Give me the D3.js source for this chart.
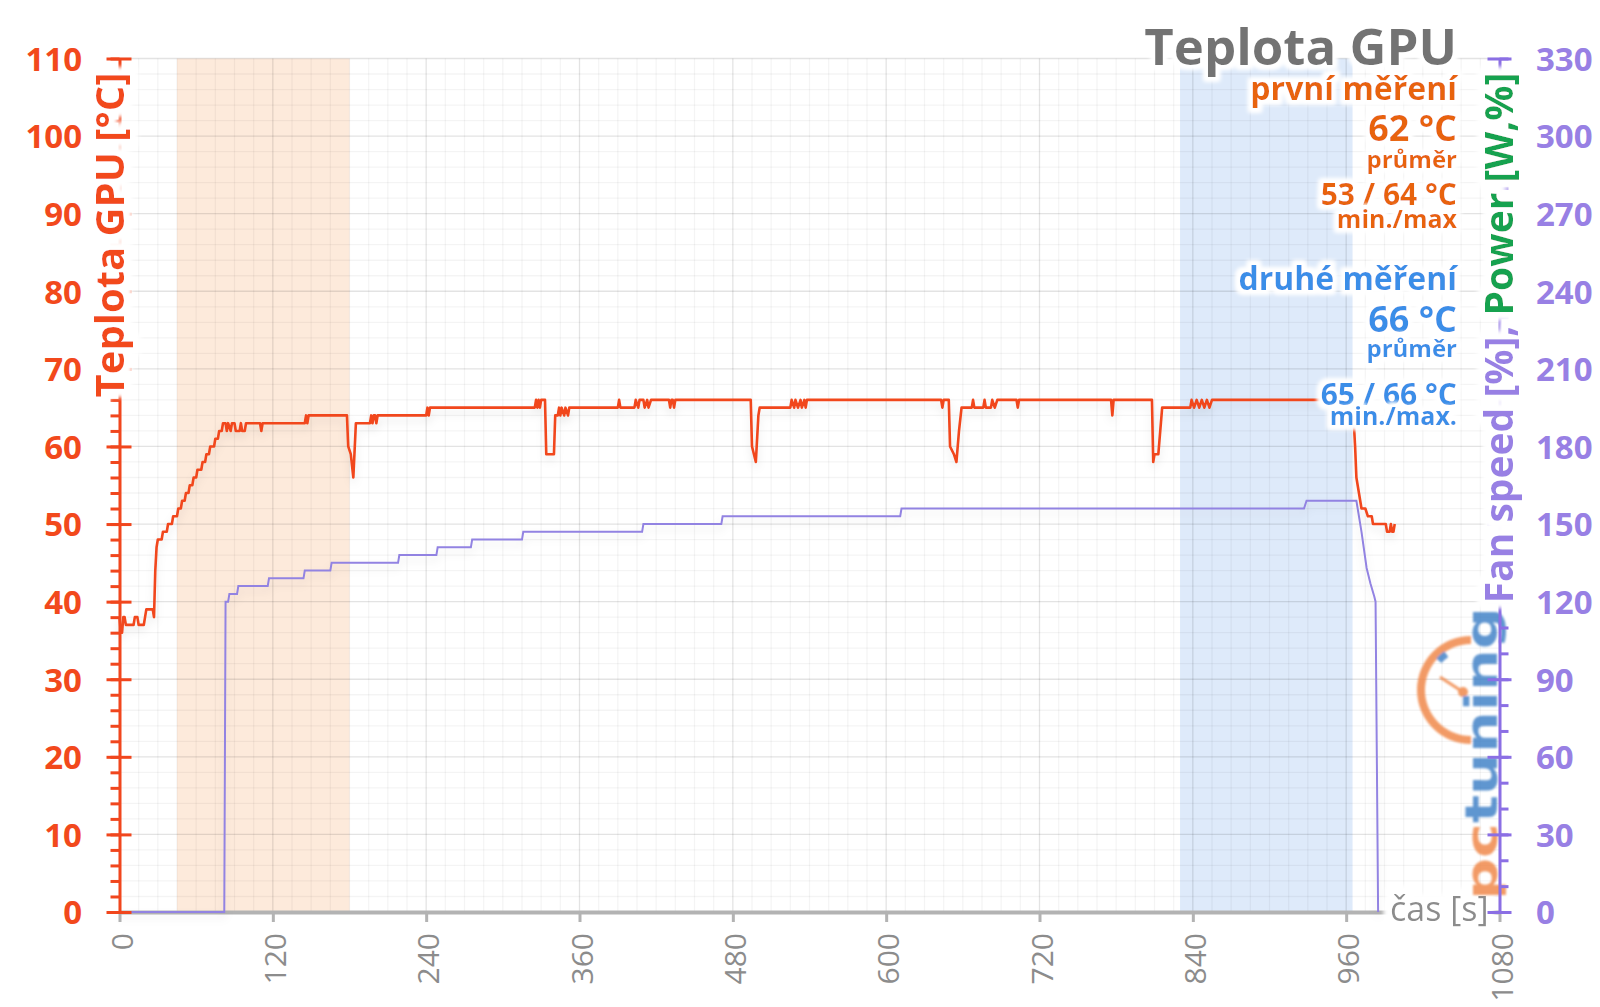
<!DOCTYPE html>
<html><head><meta charset="utf-8">
<script src="https://cdn.jsdelivr.net/npm/d3@7"></script>
<style>
html,body{margin:0;padding:0;background:#fff;}
svg{display:block;font-family:"Open Sans",sans-serif;}
</style></head><body>
<svg id="chart" width="1600" height="1007"></svg>
<script>
// ---------- data ----------
const xTicks = [0,120,240,360,480,600,720,840,960,1080];
const leftTicks = [0,10,20,30,40,50,60,70,80,90,100,110];
const rightTicks = [0,30,60,90,120,150,180,210,240,270,300,330];
const bandFirst = [45,180];
const bandSecond = [830,965];
const chartTitle = "Teplota GPU";
const leftTitle = "Teplota GPU [°C]";
const rightTitleFan = "Fan speed [%], ";
const rightTitlePower = "Power [W,%]";
const xTitle = "čas [s]";
const statsFirst = ["první měření","62 °C","průměr","53 / 64 °C","min./max"];
const statsSecond = ["druhé měření","66 °C","průměr","65 / 66 °C","min./max."];

// GPU temperature [time s, °C]
const tempPoints = [[0,38],[1,36],[2,36],[3,38],[4,38],[5,37],[11,37],[12,38],[14,38],[15,37],[19,37],[20,38],[21,39],[26,39],[27,38],[28,44],[29,47],[30,48],[33,48],[34,49],[37,49],[38,50],[41,50],[42,51],[45,51],[46,52],[48,52],[49,53],[51,53],[52,54],[54,54],[55,55],[57,55],[58,56],[60,56],[61,57],[64,57],[65,58],[67,58],[68,59],[70,59],[71,60],[74,60],[75,61],[77,61],[78,62],[80,62],[81,63],[83,63],[84,62],[85,63],[87,62],[88,63],[90,63],[91,62],[94,62],[95,63],[96,62],[98,62],[99,63],[110,63],[111,62],[112,63],[145,63],[146,64],[147,63],[148,64],[178,64],[179,60],[181,59],[183,56],[185,63],[196,63],[197,64],[198,63],[199,64],[200,64],[201,63],[202,64],[240,64],[241,65],[242,64],[243,65],[325,65],[326,66],[327,65],[328,66],[329,65],[330,66],[333,66],[334,59],[340,59],[341,64],[343,64],[344,65],[345,64],[346,65],[348,64],[349,65],[351,64],[352,65],[390,65],[391,66],[392,65],[403,65],[404,66],[406,65],[407,66],[410,66],[411,65],[413,66],[414,65],[416,66],[430,66],[431,65],[432,66],[433,66],[434,65],[435,66],[494,66],[495,60],[498,58],[500,64],[501,65],[525,65],[526,66],[528,65],[529,66],[531,65],[533,66],[534,65],[536,66],[537,65],[538,66],[643,66],[644,65],[645,66],[649,66],[650,60],[653,59],[655,58],[657,62],[659,65],[667,65],[668,66],[669,65],[676,65],[677,66],[678,65],[682,65],[683,66],[685,65],[687,66],[702,66],[703,65],[704,66],[776,66],[777,64],[778,66],[808,66],[809,58],[810,59],[813,59],[815,63],[816,65],[838,65],[839,66],[841,65],[843,66],[845,65],[847,66],[849,65],[851,66],[853,65],[855,66],[965,66],[967,60],[968,56],[970,54],[972,52],[975,52],[977,51],[980,51],[981,50],[991,50],[992,49],[994,49],[995,50],[996,49],[997,49],[998,50]];

// Fan speed (right axis) [time s, value]
const fanPoints = [[0,0],[82,0],[83,120],[85,120],[86,123],[92,123],[93,126],[116,126],[117,129],[144,129],[145,132],[165,132],[166,135],[218,135],[219,138],[248,138],[249,141],[275,141],[276,144],[315,144],[316,147],[409,147],[410,150],[471,150],[472,153],[611,153],[612,156],[927,156],[929,159],[968,159],[972,147],[976,133],[979,127],[982,122],[983,120],[985,0]];

// ---------- layout ----------
const plot = {left:119.5, right:1499.5, top:58.5, bottom:912};
const C = {
  red:"#f1461d", redText:"#f2491c", purple:"#9283e2", purpleAxis:"#8b6fe4", purpleText:"#9880e4",
  green:"#12a24f", gray:"#8c8c8c", orange:"#e8630c", blue:"#3a8ee8", title:"#737373",
  bandO:"#fdeadb", bandB:"#deeafa"
};

const svg = d3.select("#chart");
const defs = svg.append("defs");
function makeGlow(id, r, sd){
  const f = defs.append("filter").attr("id",id).attr("x","-20%").attr("y","-40%").attr("width","140%").attr("height","180%");
  f.append("feMorphology").attr("in","SourceAlpha").attr("operator","dilate").attr("radius",r).attr("result","d");
  f.append("feGaussianBlur").attr("in","d").attr("stdDeviation",sd).attr("result","b");
  f.append("feFlood").attr("flood-color","#ffffff").attr("result","f");
  f.append("feComposite").attr("in","f").attr("in2","b").attr("operator","in").attr("result","w");
  const m = f.append("feMerge");
  m.append("feMergeNode").attr("in","w");
  m.append("feMergeNode").attr("in","w");
  m.append("feMergeNode").attr("in","SourceGraphic");
}
makeGlow("glow",4,2);
makeGlow("glowBig",7,2.5);
const logoBlur = defs.append("filter").attr("id","logoBlur");
logoBlur.append("feGaussianBlur").attr("stdDeviation",0.8);

const shadow = defs.append("filter").attr("id","shadow").attr("x","-5%").attr("y","-20%").attr("width","110%").attr("height","160%");
shadow.append("feDropShadow").attr("dx",0).attr("dy",5).attr("stdDeviation",4).attr("flood-color","#000").attr("flood-opacity",0.09);

const x = d3.scaleLinear([0,1080],[plot.left,plot.right]);
const yL = d3.scaleLinear([0,110],[plot.bottom,plot.top]);
const yR = d3.scaleLinear([0,330],[plot.bottom,plot.top]);

// bands
svg.append("rect").attr("x",x(bandFirst[0])).attr("y",plot.top).attr("width",x(bandFirst[1])-x(bandFirst[0])).attr("height",plot.bottom-plot.top).attr("fill",C.bandO);
svg.append("rect").attr("x",x(bandSecond[0])).attr("y",plot.top).attr("width",x(bandSecond[1])-x(bandSecond[0])).attr("height",plot.bottom-plot.top).attr("fill",C.bandB);

// grid
const grid = svg.append("g");
grid.selectAll(".vm").data(d3.range(0,1081,15)).join("line")
  .attr("x1",d=>x(d)).attr("x2",d=>x(d)).attr("y1",plot.top).attr("y2",plot.bottom)
  .attr("stroke", d=> d%120===0 ? "rgba(0,0,0,0.11)" : "rgba(0,0,0,0.045)").attr("stroke-width",1.3);
grid.selectAll(".hm").data(d3.range(0,111,2)).join("line")
  .attr("x1",plot.left).attr("x2",plot.right).attr("y1",d=>yL(d)).attr("y2",d=>yL(d))
  .attr("stroke", d=> d%10===0 ? "rgba(0,0,0,0.11)" : "rgba(0,0,0,0.045)").attr("stroke-width",1.3);

// x axis
const gx = svg.append("g").attr("transform",`translate(0,${plot.bottom})`)
  .call(d3.axisBottom(x).tickValues(xTicks).tickFormat(d3.format("d")).tickSize(10).tickSizeOuter(0));
gx.select(".domain").attr("stroke","#b3b3b3").attr("stroke-width",4);
gx.selectAll(".tick line").attr("stroke","#b3b3b3").attr("stroke-width",3);
gx.selectAll(".tick text").attr("transform","rotate(-90)").attr("text-anchor","end")
  .attr("x",-21).attr("y",0).attr("dy","0.42em")
  .attr("fill",C.gray).attr("font-size",30).attr("font-family","Open Sans").attr("font-weight",400);

// lines
svg.append("path").datum(fanPoints).attr("d", d3.line().x(d=>x(d[0])).y(d=>yR(d[1])))
  .attr("fill","none").attr("stroke",C.purple).attr("stroke-width",2).attr("filter","url(#shadow)");
svg.append("path").datum(tempPoints).attr("d", d3.line().x(d=>x(d[0])).y(d=>yL(d[1])))
  .attr("fill","none").attr("stroke",C.red).attr("stroke-width",2.6).attr("stroke-linejoin","round").attr("filter","url(#shadow)");

// left axis
const gLm = svg.append("g").attr("transform",`translate(${plot.left},0)`)
  .call(d3.axisLeft(yL).tickValues(d3.range(0,111,2)).tickSize(9).tickSizeOuter(0).tickFormat(""));
gLm.select(".domain").attr("stroke",C.red).attr("stroke-width",3);
gLm.selectAll(".tick line").attr("stroke",C.red).attr("stroke-width",3);
const gL = svg.append("g").attr("transform",`translate(${plot.left},0)`)
  .call(d3.axisLeft(yL).tickValues(leftTicks).tickSize(13).tickSizeOuter(0));
gL.select(".domain").remove();
gL.selectAll(".tick line").attr("x1",12).attr("stroke",C.red).attr("stroke-width",3);
gL.selectAll(".tick text").attr("x",-37.5).attr("dy","0.36em").attr("fill",C.redText)
  .attr("font-size",33).attr("font-weight",700).attr("font-family","Open Sans");

// x axis title (under the logo)
svg.append("text").attr("x",1390).attr("y",921).attr("font-size",34).attr("fill",C.gray)
  .attr("filter","url(#glowBig)").text(xTitle);

// logo (watermark)
const logo = svg.append("g").attr("opacity",0.82).attr("filter","url(#logoBlur)");
const cx = 1471, cy = 690;
logo.append("path").attr("transform",`translate(${cx},${cy})`)
  .attr("d", d3.arc()({innerRadius:46,outerRadius:54,startAngle:Math.PI,endAngle:2*Math.PI})).attr("fill","#f08545");
logo.append("path").attr("transform",`translate(${cx},${cy})`)
  .attr("d", d3.arc()({innerRadius:40,outerRadius:47,startAngle:5.45,endAngle:5.68})).attr("fill","#3d7fc6");
logo.append("line").attr("x1",cx-8).attr("y1",cy+2).attr("x2",cx-31).attr("y2",cy-13).attr("stroke","#f08545").attr("stroke-width",3);
logo.append("circle").attr("cx",cx-8).attr("cy",cy+2).attr("r",5).attr("fill","#f08545");
const lt = logo.append("text").attr("transform","translate(1497,900) rotate(-90)")
  .attr("font-family","DejaVu Sans").attr("font-weight",700).attr("font-size",45)
  .attr("textLength",293).attr("lengthAdjust","spacingAndGlyphs");
lt.append("tspan").text("pc").attr("fill","#f08545");
lt.append("tspan").text("tuning").attr("fill","#3d7fc6");

// right axis
const gRm = svg.append("g").attr("transform",`translate(${plot.right},0)`)
  .call(d3.axisRight(yR).tickValues(d3.range(0,331,10)).tickSize(9).tickSizeOuter(0).tickFormat(""));
gRm.select(".domain").attr("stroke",C.purpleAxis).attr("stroke-width",3);
gRm.selectAll(".tick line").attr("stroke",C.purpleAxis).attr("stroke-width",3);
const gR = svg.append("g").attr("transform",`translate(${plot.right},0)`)
  .call(d3.axisRight(yR).tickValues(rightTicks).tickSize(12).tickSizeOuter(0));
gR.select(".domain").remove();
gR.selectAll(".tick line").attr("x1",-12).attr("stroke",C.purpleAxis).attr("stroke-width",3);
gR.selectAll(".tick text").attr("x",36.5).attr("dy","0.36em").attr("fill",C.purpleText)
  .attr("font-size",33).attr("font-weight",700).attr("font-family","Open Sans");

// axis titles
svg.append("text").attr("transform",`translate(124,235) rotate(-90)`).attr("text-anchor","middle")
  .attr("font-size",40).attr("font-weight",700).attr("fill",C.redText).attr("filter","url(#glowBig)").text(leftTitle);
const rt = svg.append("text").attr("transform",`translate(1513,338) rotate(-90)`).attr("text-anchor","middle")
  .attr("font-size",39).attr("font-weight",700).attr("filter","url(#glowBig)");
rt.append("tspan").attr("fill",C.purpleText).text(rightTitleFan);
rt.append("tspan").attr("fill",C.green).text(rightTitlePower);

// title & stats
const rightEdge = 1457;
svg.append("text").attr("x",rightEdge).attr("y",65).attr("text-anchor","end")
  .attr("font-size",51).attr("font-weight",700).attr("fill",C.title).attr("filter","url(#glow)").text(chartTitle);
const statSizes = [32,36,24,30,25];
const statY1 = [100,141,168,205,228];
const statY2 = [290,332,357,405,425];
function stats(labels, ys, color){
  svg.append("g").selectAll("text").data(labels).join("text")
    .attr("x",rightEdge).attr("y",(d,i)=>ys[i]).attr("text-anchor","end")
    .attr("font-size",(d,i)=>statSizes[i]).attr("font-weight",700).attr("fill",color)
    .attr("filter","url(#glow)").text(d=>d);
}
stats(statsFirst, statY1, C.orange);
stats(statsSecond, statY2, C.blue);
</script>
</body></html>
